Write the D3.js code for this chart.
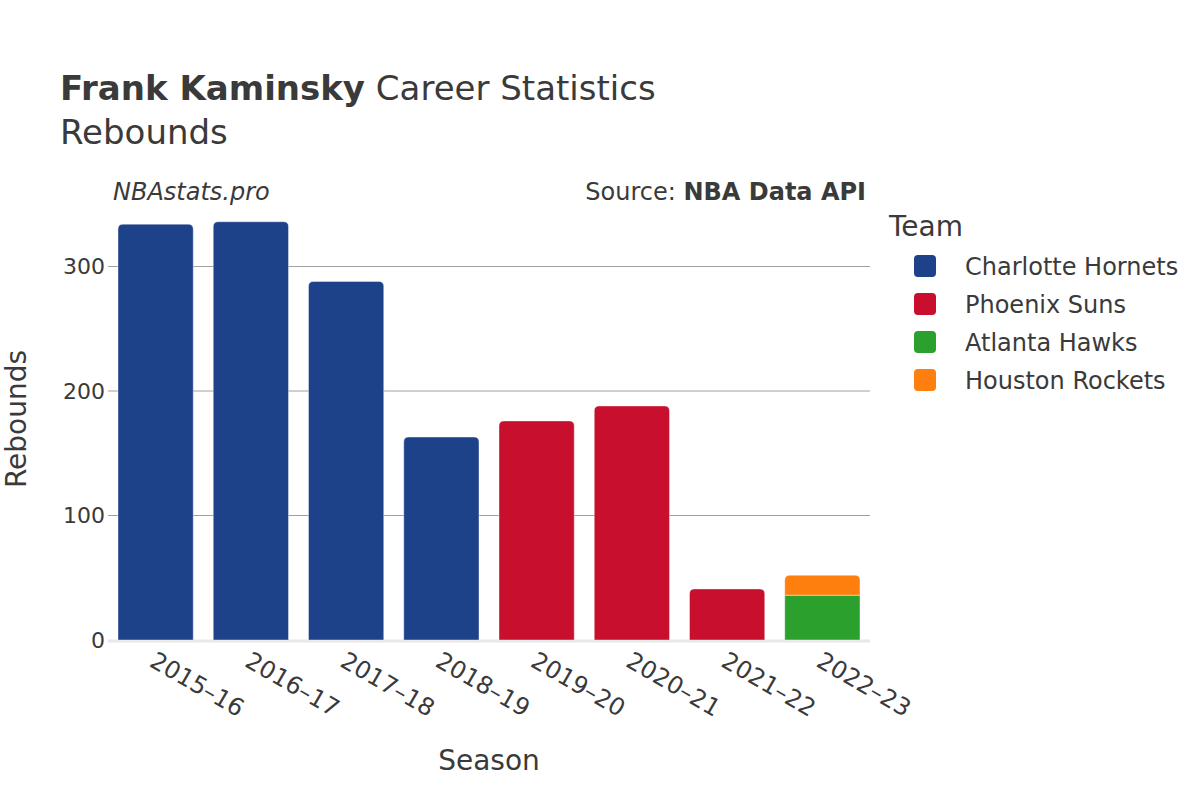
<!DOCTYPE html>
<html>
<head>
<meta charset="utf-8">
<script src="https://cdn.jsdelivr.net/npm/d3@7"></script>
<style>
  body { margin: 0; background: #fff; }
  .font { font-family: "DejaVu Sans", sans-serif; fill: #3a3a3a; }
</style>
</head>
<body>
<svg id="chart" width="1200" height="800"></svg>
<script>
const SEASONS = ["2015–16", "2016–17", "2017–18", "2018–19", "2019–20", "2020–21", "2021–22", "2022–23"];
const TEAMS = ["Charlotte Hornets", "Phoenix Suns", "Atlanta Hawks", "Houston Rockets"];
const TEAM_COLORS = ["#1d4289", "#c8102e", "#2ca02c", "#ff7f0e"];
// rebounds per season, one array per team
const HORNETS = [334, 336, 288, 163, 0, 0, 0, 0];
const SUNS = [0, 0, 0, 0, 176, 188, 41, 0];
const HAWKS = [0, 0, 0, 0, 0, 0, 0, 36];
const ROCKETS = [0, 0, 0, 0, 0, 0, 0, 16];
const Y_TICKS = [0, 100, 200, 300];

const PLOT_LEFT = 108;
const PLOT_RIGHT = 870;
const PLOT_TOP = 180;
const PLOT_BOTTOM = 640;
const BAR_RADIUS = 5;

var svg = d3.select("#chart");

var seriesValues = [HORNETS, SUNS, HAWKS, ROCKETS];
var table = SEASONS.map(function(s, i) {
    var row = { season: s };
    TEAMS.forEach(function(t, j) { row[t] = seriesValues[j][i]; });
    return row;
});
var stacked = d3.stack().keys(TEAMS)(table);

var xScale = d3.scaleBand()
    .domain(SEASONS)
    .range([PLOT_LEFT, PLOT_RIGHT])
    .paddingInner(0.21)
    .paddingOuter(0.105);

var yScale = d3.scaleLinear()
    .domain([0, 369.5])
    .range([PLOT_BOTTOM, PLOT_TOP]);

var color = d3.scaleOrdinal().domain(TEAMS).range(TEAM_COLORS);

// grid lines
svg.append("g")
    .selectAll("line")
    .data(Y_TICKS.filter(function(d) { return d > 0; }))
    .enter()
    .append("line")
    .attr("x1", PLOT_LEFT)
    .attr("x2", PLOT_RIGHT)
    .attr("y1", function(d) { return yScale(d); })
    .attr("y2", function(d) { return yScale(d); })
    .attr("stroke", "#a0a0a0")
    .attr("stroke-width", 1);

// zero line
svg.append("line")
    .attr("x1", PLOT_LEFT)
    .attr("x2", PLOT_RIGHT)
    .attr("y1", yScale(0) + 1)
    .attr("y2", yScale(0) + 1)
    .attr("stroke", "#e8e8e8")
    .attr("stroke-width", 3);

// y tick labels
svg.append("g")
    .selectAll("text")
    .data(Y_TICKS)
    .enter()
    .append("text")
    .attr("x", 105)
    .attr("y", function(d) { return yScale(d); })
    .attr("dy", "0.36em")
    .attr("text-anchor", "end")
    .attr("font-size", 22)
    .classed("font", true)
    .text(function(d) { return d; });

function isTopSegment(layerIndex, i) {
    for (var k = layerIndex + 1; k < stacked.length; k++) {
        if (stacked[k][i][1] - stacked[k][i][0] > 0) return false;
    }
    return true;
}

function barPath(x, w, y0, y1, rounded) {
    var r = rounded ? Math.min(BAR_RADIUS, (y0 - y1) / 2) : 0;
    return "M" + x + "," + y0 +
        "V" + (y1 + r) +
        "Q" + x + "," + y1 + " " + (x + r) + "," + y1 +
        "H" + (x + w - r) +
        "Q" + (x + w) + "," + y1 + " " + (x + w) + "," + (y1 + r) +
        "V" + y0 + "Z";
}

// bars
stacked.forEach(function(layer, li) {
    svg.append("g")
        .selectAll("path")
        .data(layer)
        .enter()
        .filter(function(d) { return d[1] - d[0] > 0; })
        .append("path")
        .attr("d", function(d) {
            var i = SEASONS.indexOf(d.data.season);
            return barPath(xScale(d.data.season), xScale.bandwidth(),
                yScale(d[0]), yScale(d[1]), isTopSegment(li, i));
        })
        .attr("fill", color(layer.key))
        .attr("stroke", "#ffffff")
        .attr("stroke-opacity", 0.4)
        .attr("stroke-width", 1);
});

// x tick labels
svg.append("g")
    .selectAll("text")
    .data(SEASONS)
    .enter()
    .append("text")
    .attr("transform", function(d) {
        return "translate(" + (xScale(d) + xScale.bandwidth() / 2 + 1) + "," + 651 + ") rotate(30)";
    })
    .attr("dy", "0.7em")
    .attr("font-size", 24)
    .classed("font", true)
    .text(function(d) { return d; });

// titles
var title = svg.append("text")
    .attr("x", 60)
    .attr("y", 100)
    .attr("font-size", 34)
    .classed("font", true);
title.append("tspan").attr("font-weight", "bold").text("Frank Kaminsky");
title.append("tspan").text(" Career Statistics");

svg.append("text")
    .attr("x", 60)
    .attr("y", 144)
    .attr("font-size", 34)
    .classed("font", true)
    .text("Rebounds");

svg.append("text")
    .attr("x", 113)
    .attr("y", 200)
    .attr("font-size", 24)
    .attr("font-style", "italic")
    .classed("font", true)
    .text("NBAstats.pro");

var source = svg.append("text")
    .attr("x", 866)
    .attr("y", 200)
    .attr("font-size", 24)
    .attr("text-anchor", "end")
    .classed("font", true);
source.append("tspan").text("Source: ");
source.append("tspan").attr("font-weight", "bold").text("NBA Data API");

svg.append("text")
    .attr("x", 489)
    .attr("y", 770)
    .attr("font-size", 28)
    .attr("text-anchor", "middle")
    .classed("font", true)
    .text("Season");

svg.append("text")
    .attr("transform", "translate(26,419) rotate(-90)")
    .attr("font-size", 28)
    .attr("text-anchor", "middle")
    .classed("font", true)
    .text("Rebounds");

// legend
svg.append("text")
    .attr("x", 889)
    .attr("y", 236)
    .attr("font-size", 28)
    .classed("font", true)
    .text("Team");

var legend = svg.append("g")
    .selectAll("g")
    .data(TEAMS)
    .enter()
    .append("g")
    .attr("transform", function(d, i) { return "translate(0," + (266 + i * 38) + ")"; });
legend.append("rect")
    .attr("x", 914)
    .attr("y", -11)
    .attr("width", 22)
    .attr("height", 22)
    .attr("rx", 4)
    .attr("fill", function(d) { return color(d); });
legend.append("text")
    .attr("x", 965)
    .attr("y", 0)
    .attr("dy", "0.36em")
    .attr("font-size", 24)
    .classed("font", true)
    .text(function(d) { return d; });
</script>
</body>
</html>
